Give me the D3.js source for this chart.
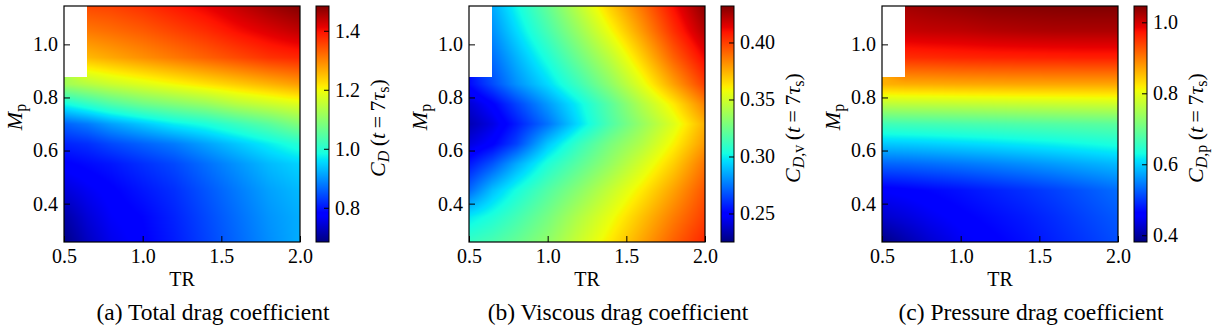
<!DOCTYPE html>
<html>
<head>
<meta charset="utf-8">
<script src="https://cdn.jsdelivr.net/npm/d3@7"></script>
<style>
  body { margin: 0; background: #fff; }
  svg, svg text { font-family: "Liberation Serif", Tinos, "Times New Roman", "DejaVu Serif", serif; }
  svg { display: block; }
</style>
</head>
<body>
<div id="chart"></div>
<script>
// sample nodes (rows = Mp from top to bottom, columns = TR)
const trNodes = [0.5, 0.65, 0.8, 1.0, 1.2, 1.4, 1.6, 1.8, 2.0];
const mpNodes = [1.14, 1.05, 0.95, 0.85, 0.775, 0.7, 0.625, 0.55, 0.45, 0.35, 0.26];

const cdTotal = [
  [null, 1.35, 1.355, 1.37, 1.39, 1.41, 1.435, 1.46, 1.48],
  [null, 1.31, 1.32, 1.335, 1.355, 1.375, 1.40, 1.42, 1.44],
  [null, 1.255, 1.27, 1.29, 1.31, 1.33, 1.35, 1.37, 1.38],
  [1.12, 1.14, 1.16, 1.18, 1.20, 1.22, 1.24, 1.26, 1.28],
  [0.98, 1.01, 1.04, 1.07, 1.09, 1.11, 1.14, 1.16, 1.18],
  [0.86, 0.88, 0.91, 0.94, 0.97, 0.99, 1.02, 1.05, 1.09],
  [0.81, 0.82, 0.84, 0.86, 0.88, 0.91, 0.94, 0.97, 1.00],
  [0.78, 0.79, 0.80, 0.82, 0.84, 0.87, 0.90, 0.93, 0.95],
  [0.745, 0.765, 0.78, 0.80, 0.82, 0.85, 0.88, 0.91, 0.93],
  [0.71, 0.745, 0.77, 0.785, 0.81, 0.84, 0.87, 0.90, 0.92],
  [0.69, 0.73, 0.76, 0.78, 0.805, 0.835, 0.865, 0.895, 0.92]
];

const cdViscous = [
  [null, 0.285, 0.301, 0.322, 0.345, 0.368, 0.388, 0.410, 0.430],
  [null, 0.280, 0.295, 0.315, 0.336, 0.358, 0.380, 0.403, 0.423],
  [null, 0.273, 0.287, 0.305, 0.325, 0.345, 0.368, 0.392, 0.412],
  [0.252, 0.266, 0.280, 0.295, 0.313, 0.333, 0.355, 0.378, 0.400],
  [0.240, 0.250, 0.264, 0.282, 0.300, 0.320, 0.342, 0.362, 0.385],
  [0.234, 0.243, 0.256, 0.274, 0.296, 0.317, 0.335, 0.353, 0.375],
  [0.242, 0.250, 0.264, 0.291, 0.311, 0.328, 0.342, 0.360, 0.380],
  [0.255, 0.268, 0.285, 0.305, 0.320, 0.335, 0.351, 0.368, 0.388],
  [0.272, 0.290, 0.303, 0.318, 0.332, 0.347, 0.362, 0.378, 0.395],
  [0.298, 0.305, 0.314, 0.327, 0.342, 0.356, 0.371, 0.386, 0.400],
  [0.310, 0.315, 0.322, 0.333, 0.348, 0.362, 0.377, 0.392, 0.405]
];

const cdPressure = [
  [null, 1.025, 1.03, 1.035, 1.04, 1.042, 1.044, 1.045, 1.045],
  [null, 1.005, 1.008, 1.01, 1.015, 1.018, 1.02, 1.02, 1.02],
  [null, 0.955, 0.957, 0.96, 0.962, 0.963, 0.964, 0.965, 0.965],
  [0.862, 0.865, 0.866, 0.868, 0.869, 0.87, 0.87, 0.87, 0.87],
  [0.765, 0.767, 0.768, 0.77, 0.772, 0.774, 0.776, 0.778, 0.78],
  [0.665, 0.667, 0.669, 0.672, 0.675, 0.678, 0.681, 0.684, 0.687],
  [0.595, 0.597, 0.60, 0.605, 0.61, 0.616, 0.622, 0.629, 0.636],
  [0.53, 0.532, 0.536, 0.542, 0.549, 0.557, 0.566, 0.576, 0.585],
  [0.455, 0.46, 0.466, 0.474, 0.484, 0.494, 0.506, 0.52, 0.535],
  [0.425, 0.435, 0.447, 0.46, 0.47, 0.48, 0.493, 0.508, 0.522],
  [0.385, 0.408, 0.428, 0.448, 0.46, 0.472, 0.486, 0.50, 0.515]
];

// no data in the top left corner
const missingTR = 0.645, missingMp = 0.877;

const trDomain = [0.5, 2.0];
const mpDomain = [0.2555, 1.1445];
const trTicks = [0.5, 1.0, 1.5, 2.0];
const mpTicks = [0.4, 0.6, 0.8, 1.0];

const cdTotalRange = [0.684, 1.484];
const cdViscousRange = [0.225, 0.432];
const cdPressureRange = [0.381, 1.046];
const cdTotalTicks = [0.8, 1.0, 1.2, 1.4];
const cdViscousTicks = [0.25, 0.30, 0.35, 0.40];
const cdPressureTicks = [0.4, 0.6, 0.8, 1.0];

const captions = ["(a) Total drag coefficient", "(b) Viscous drag coefficient", "(c) Pressure drag coefficient"];

let width = 1219, height = 333;
let plotTop = 6, plotW = 236, plotH = 236;
let serif = "'Liberation Serif', Tinos, 'Times New Roman', 'DejaVu Serif', serif";

let panels = [
  {left: 64, grid: cdTotal, range: cdTotalRange, ticks: cdTotalTicks, fmt: d3.format(".1f"), sub: "D", subRest: "", caption: captions[0]},
  {left: 469, grid: cdViscous, range: cdViscousRange, ticks: cdViscousTicks, fmt: d3.format(".2f"), sub: "D", subRest: ",v", caption: captions[1]},
  {left: 882, grid: cdPressure, range: cdPressureRange, ticks: cdPressureTicks, fmt: d3.format(".1f"), sub: "D", subRest: ",p", caption: captions[2]}
];

// jet colormap, channel by channel
let jetR = d3.scaleLinear().domain([0, 0.35, 0.66, 0.89, 1]).range([0, 0, 1, 1, 0.5]).clamp(true);
let jetG = d3.scaleLinear().domain([0, 0.125, 0.375, 0.64, 0.91, 1]).range([0, 0, 1, 1, 0, 0]).clamp(true);
let jetB = d3.scaleLinear().domain([0, 0.11, 0.34, 0.65, 1]).range([0.5, 1, 1, 0, 0]).clamp(true);
function jet(f) { return [jetR(f) * 255, jetG(f) * 255, jetB(f) * 255]; }
let jetStops = [0, 0.11, 0.125, 0.34, 0.35, 0.375, 0.64, 0.65, 0.66, 0.89, 0.91, 1];

// fractional node index along each axis
let trIndex = d3.scaleLinear().domain(trNodes).range(d3.range(trNodes.length)).clamp(true);
let mpIndex = d3.scaleLinear().domain(mpNodes).range(d3.range(mpNodes.length)).clamp(true);

function sample(grid, tr, mp) {
  let fi = trIndex(tr), fj = mpIndex(mp);
  let i0 = Math.min(Math.floor(fi), trNodes.length - 2),
      j0 = Math.min(Math.floor(fj), mpNodes.length - 2);
  let ti = fi - i0, tj = fj - j0;
  let s = 0, w = 0;
  [[0, 0, (1 - ti) * (1 - tj)], [1, 0, ti * (1 - tj)], [0, 1, (1 - ti) * tj], [1, 1, ti * tj]].forEach(function(c) {
    let v = grid[j0 + c[1]][i0 + c[0]];
    if (v != null && c[2] > 0) { s += v * c[2]; w += c[2]; }
  });
  return w > 0 ? s / w : null;
}

let svg = d3.select("#chart").append("svg")
  .attr("width", width)
  .attr("height", height)
  .attr("font-family", serif);

let defs = svg.append("defs");
let grad = defs.append("linearGradient")
  .attr("id", "jet")
  .attr("x1", 0).attr("y1", 1).attr("x2", 0).attr("y2", 0);
grad.selectAll("stop")
  .data(jetStops)
  .enter().append("stop")
  .attr("offset", function(d) { return d; })
  .attr("stop-color", function(d) { let c = jet(d); return d3.rgb(c[0], c[1], c[2]).toString(); });

panels.forEach(function(p) {
  let x = d3.scaleLinear().domain(trDomain).range([0, plotW]);
  let y = d3.scaleLinear().domain(mpDomain).range([plotH, 0]);
  let color = d3.scaleLinear().domain(p.range).range([0, 1]);

  let g = svg.append("g").attr("transform", "translate(" + p.left + "," + plotTop + ")");

  // heat map image
  let canvas = document.createElement("canvas");
  canvas.width = plotW; canvas.height = plotH;
  let ctx = canvas.getContext("2d");
  let img = ctx.createImageData(plotW, plotH);
  for (let py = 0; py < plotH; py++) {
    let mp = y.invert(py + 0.5);
    for (let px = 0; px < plotW; px++) {
      let tr = x.invert(px + 0.5);
      let k = (py * plotW + px) * 4;
      let v = (tr < missingTR && mp > missingMp) ? null : sample(p.grid, tr, mp);
      let c = v == null ? [255, 255, 255] : jet(color(v));
      img.data[k] = c[0]; img.data[k + 1] = c[1]; img.data[k + 2] = c[2]; img.data[k + 3] = 255;
    }
  }
  ctx.putImageData(img, 0, 0);
  g.append("image")
    .attr("width", plotW)
    .attr("height", plotH)
    .attr("preserveAspectRatio", "none")
    .attr("href", canvas.toDataURL("image/png"));

  // axes with inward ticks
  let xAxis = g.append("g")
    .attr("transform", "translate(0," + plotH + ")")
    .call(d3.axisBottom(x).tickValues(trTicks).tickFormat(d3.format(".1f")).tickSizeInner(-6).tickSizeOuter(0).tickPadding(7));
  let yAxis = g.append("g")
    .call(d3.axisLeft(y).tickValues(mpTicks).tickFormat(d3.format(".1f")).tickSizeInner(-6).tickSizeOuter(0).tickPadding(6));
  [xAxis, yAxis].forEach(function(a) {
    a.select(".domain").remove();
    a.attr("font-family", serif).attr("font-size", 20);
    a.selectAll("text").attr("fill", "#000");
    a.selectAll("line").attr("stroke", "#000");
  });

  g.append("rect")
    .attr("width", plotW)
    .attr("height", plotH)
    .attr("fill", "none")
    .attr("stroke", "#000")
    .attr("stroke-width", 1.2);

  g.append("text")
    .attr("x", plotW / 2)
    .attr("y", 286 - plotTop)
    .attr("text-anchor", "middle")
    .attr("font-size", 20)
    .text("TR");

  let mpLabel = g.append("text")
    .attr("transform", "translate(" + (22 - 64) + "," + (117 - plotTop) + ") rotate(-90)")
    .attr("text-anchor", "middle")
    .attr("font-size", 22);
  mpLabel.append("tspan").attr("font-style", "italic").text("M");
  mpLabel.append("tspan").attr("font-size", 16).attr("dy", 4).text("p");

  // colour bar
  let cbX = 252, cbW = 13;
  let cb = g.append("g").attr("transform", "translate(" + cbX + ",0)");
  cb.append("rect")
    .attr("width", cbW)
    .attr("height", plotH)
    .attr("fill", "url(#jet)")
    .attr("stroke", "#000")
    .attr("stroke-width", 1);
  let cy = d3.scaleLinear().domain(p.range).range([plotH, 0]);
  let cAxis = cb.append("g")
    .attr("transform", "translate(" + cbW + ",0)")
    .call(d3.axisRight(cy).tickValues(p.ticks).tickFormat(p.fmt).tickSizeInner(-5).tickSizeOuter(0).tickPadding(6));
  cAxis.select(".domain").remove();
  cAxis.attr("font-family", serif).attr("font-size", 20);
  cAxis.selectAll("text").attr("fill", "#000");
  cAxis.selectAll("line").attr("stroke", "#000");

  let maxW = d3.max(cAxis.selectAll("text").nodes(), function(n) { return n.getComputedTextLength(); });
  let lx = cbW + 6 + maxW + 25;
  let cbLabel = cb.append("text")
    .attr("transform", "translate(" + lx + "," + (128 - plotTop) + ") rotate(-90)")
    .attr("text-anchor", "middle")
    .attr("font-size", 22);
  cbLabel.append("tspan").attr("font-style", "italic").text("C");
  cbLabel.append("tspan").attr("font-style", "italic").attr("font-size", 16).attr("dy", 4).text(p.sub);
  if (p.subRest) cbLabel.append("tspan").attr("font-size", 16).text(p.subRest);
  cbLabel.append("tspan").attr("dy", -4).text("\u2009(");
  cbLabel.append("tspan").attr("font-style", "italic").text("t");
  cbLabel.append("tspan").text("\u2009=\u20097");
  cbLabel.append("tspan").attr("font-style", "italic").text("\u03c4");
  cbLabel.append("tspan").attr("font-size", 16).attr("dy", 4).text("s");
  cbLabel.append("tspan").attr("dy", -4).text(")");

  g.append("text")
    .attr("x", 149)
    .attr("y", 320 - plotTop)
    .attr("text-anchor", "middle")
    .attr("font-size", 23.5)
    .text(p.caption);
});
</script>
</body>
</html>
